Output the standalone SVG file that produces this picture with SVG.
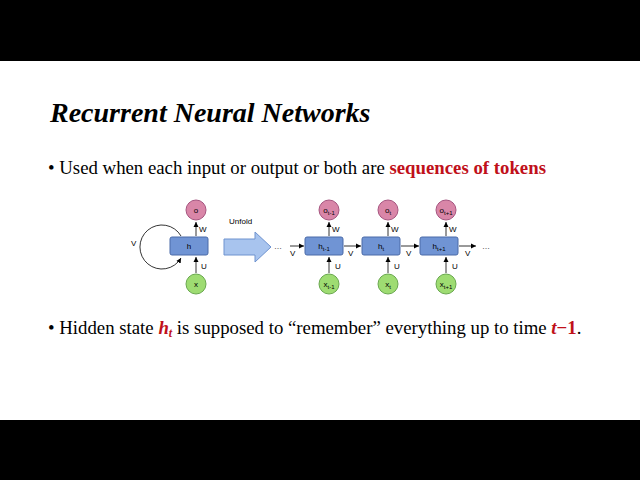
<svg xmlns="http://www.w3.org/2000/svg" width="640" height="480" viewBox="0 0 640 480">
<defs>
<marker id="ah" markerWidth="6" markerHeight="6" refX="5" refY="3" orient="auto" markerUnits="userSpaceOnUse"><path d="M0,0.5 L5,3 L0,5.5 Z" fill="#000"/></marker>
</defs>
<style>
.box{fill:#7094d4;stroke:#4a6aa8;stroke-width:1}
.o{fill:#d986a8;stroke:#a65580;stroke-width:1}
.x{fill:#9edc72;stroke:#6aa84f;stroke-width:1}
.lbl{font-family:"Liberation Sans",Arial,sans-serif;font-size:8px;fill:#000}
.c{text-anchor:middle}
.ln{stroke:#000;stroke-width:0.8;fill:none;marker-end:url(#ah)}
.serif{font-family:"Liberation Serif","Times New Roman",serif}
</style>
<rect width="640" height="480" fill="#000"/>
<rect x="0" y="61" width="640" height="359" fill="#fff"/>
<text x="50" y="122" class="serif" font-size="28" font-style="italic" font-weight="bold">Recurrent Neural Networks</text>
<text x="48" y="174" class="serif" font-size="18.8">• Used when each input or output or both are <tspan fill="#c0101a" font-weight="bold">sequences of tokens</tspan></text>
<text x="48" y="334" class="serif" font-size="18.8">• Hidden state <tspan fill="#c0101a" font-weight="bold" font-style="italic">h<tspan font-size="12" dy="3">t</tspan></tspan><tspan dy="-3"> is supposed to “remember” everything up to time </tspan><tspan fill="#c0101a" font-weight="bold" font-style="italic">t</tspan><tspan fill="#c0101a" font-weight="bold">−1</tspan>.</text>
<g id="connectors">
<path class="ln" d="M181,236 A22,22 0 1 0 181,258"/>
<line class="ln" x1="196" y1="236" x2="196" y2="222"/>
<line class="ln" x1="196" y1="273" x2="196" y2="257"/>
<line class="ln" x1="290" y1="246" x2="304" y2="246"/>
<line class="ln" x1="344" y1="246" x2="361" y2="246"/>
<line class="ln" x1="401" y1="246" x2="419" y2="246"/>
<line class="ln" x1="459" y1="246" x2="476" y2="246"/>
<line class="ln" x1="329" y1="236" x2="329" y2="222"/>
<line class="ln" x1="329" y1="273" x2="329" y2="257"/>
<line class="ln" x1="388" y1="236" x2="388" y2="222"/>
<line class="ln" x1="388" y1="273" x2="388" y2="257"/>
<line class="ln" x1="446" y1="236" x2="446" y2="222"/>
<line class="ln" x1="446" y1="273" x2="446" y2="257"/>
<text class="lbl" x="131" y="246">V</text>
<text class="lbl" x="199" y="232">W</text><text class="lbl" x="201" y="269">U</text>
<text class="lbl" x="332" y="232">W</text><text class="lbl" x="335" y="269">U</text>
<text class="lbl" x="391" y="232">W</text><text class="lbl" x="394" y="269">U</text>
<text class="lbl" x="449" y="232">W</text><text class="lbl" x="452" y="269">U</text>
<text class="lbl" x="290" y="256">V</text><text class="lbl" x="348" y="256">V</text>
<text class="lbl" x="406" y="256">V</text><text class="lbl" x="465" y="256">V</text>
<text class="lbl" x="274" y="249">…</text><text class="lbl" x="482" y="249">…</text>
<text class="lbl" x="229" y="224">Unfold</text>
<path d="M224,239 H255 V232 L271,247 L255,262 V255 H224 Z" fill="#a8c4ee" stroke="#6f93cf" stroke-width="1"/>
</g>
<g id="h"><rect class="box" x="170" y="237" width="38" height="18" rx="2"/><text class="lbl c" x="189" y="249">h</text></g>
<g id="o"><circle class="o" cx="196" cy="210" r="10"/><text class="lbl c" x="196" y="213">o</text></g>
<g id="x"><circle class="x" cx="196" cy="284" r="10"/><text class="lbl c" x="196" y="287">x</text></g>
<g id="h_tm1"><rect class="box" x="305" y="237" width="38" height="18" rx="2"/><text class="lbl c" x="324" y="249">h<tspan font-size="6" dy="2">t-1</tspan></text></g>
<g id="h_t"><rect class="box" x="362" y="237" width="38" height="18" rx="2"/><text class="lbl c" x="381" y="249">h<tspan font-size="6" dy="2">t</tspan></text></g>
<g id="h_tp1"><rect class="box" x="420" y="237" width="38" height="18" rx="2"/><text class="lbl c" x="439" y="249">h<tspan font-size="6" dy="2">t+1</tspan></text></g>
<g id="o_tm1"><circle class="o" cx="329" cy="210" r="10"/><text class="lbl c" x="329" y="213">o<tspan font-size="6" dy="2">t-1</tspan></text></g>
<g id="o_t"><circle class="o" cx="388" cy="210" r="10"/><text class="lbl c" x="388" y="213">o<tspan font-size="6" dy="2">t</tspan></text></g>
<g id="o_tp1"><circle class="o" cx="446" cy="210" r="10"/><text class="lbl c" x="446" y="213">o<tspan font-size="6" dy="2">t+1</tspan></text></g>
<g id="x_tm1"><circle class="x" cx="329" cy="284" r="10"/><text class="lbl c" x="329" y="287">x<tspan font-size="6" dy="2">t-1</tspan></text></g>
<g id="x_t"><circle class="x" cx="388" cy="284" r="10"/><text class="lbl c" x="388" y="287">x<tspan font-size="6" dy="2">t</tspan></text></g>
<g id="x_tp1"><circle class="x" cx="446" cy="284" r="10"/><text class="lbl c" x="446" y="287">x<tspan font-size="6" dy="2">t+1</tspan></text></g>
</svg>
